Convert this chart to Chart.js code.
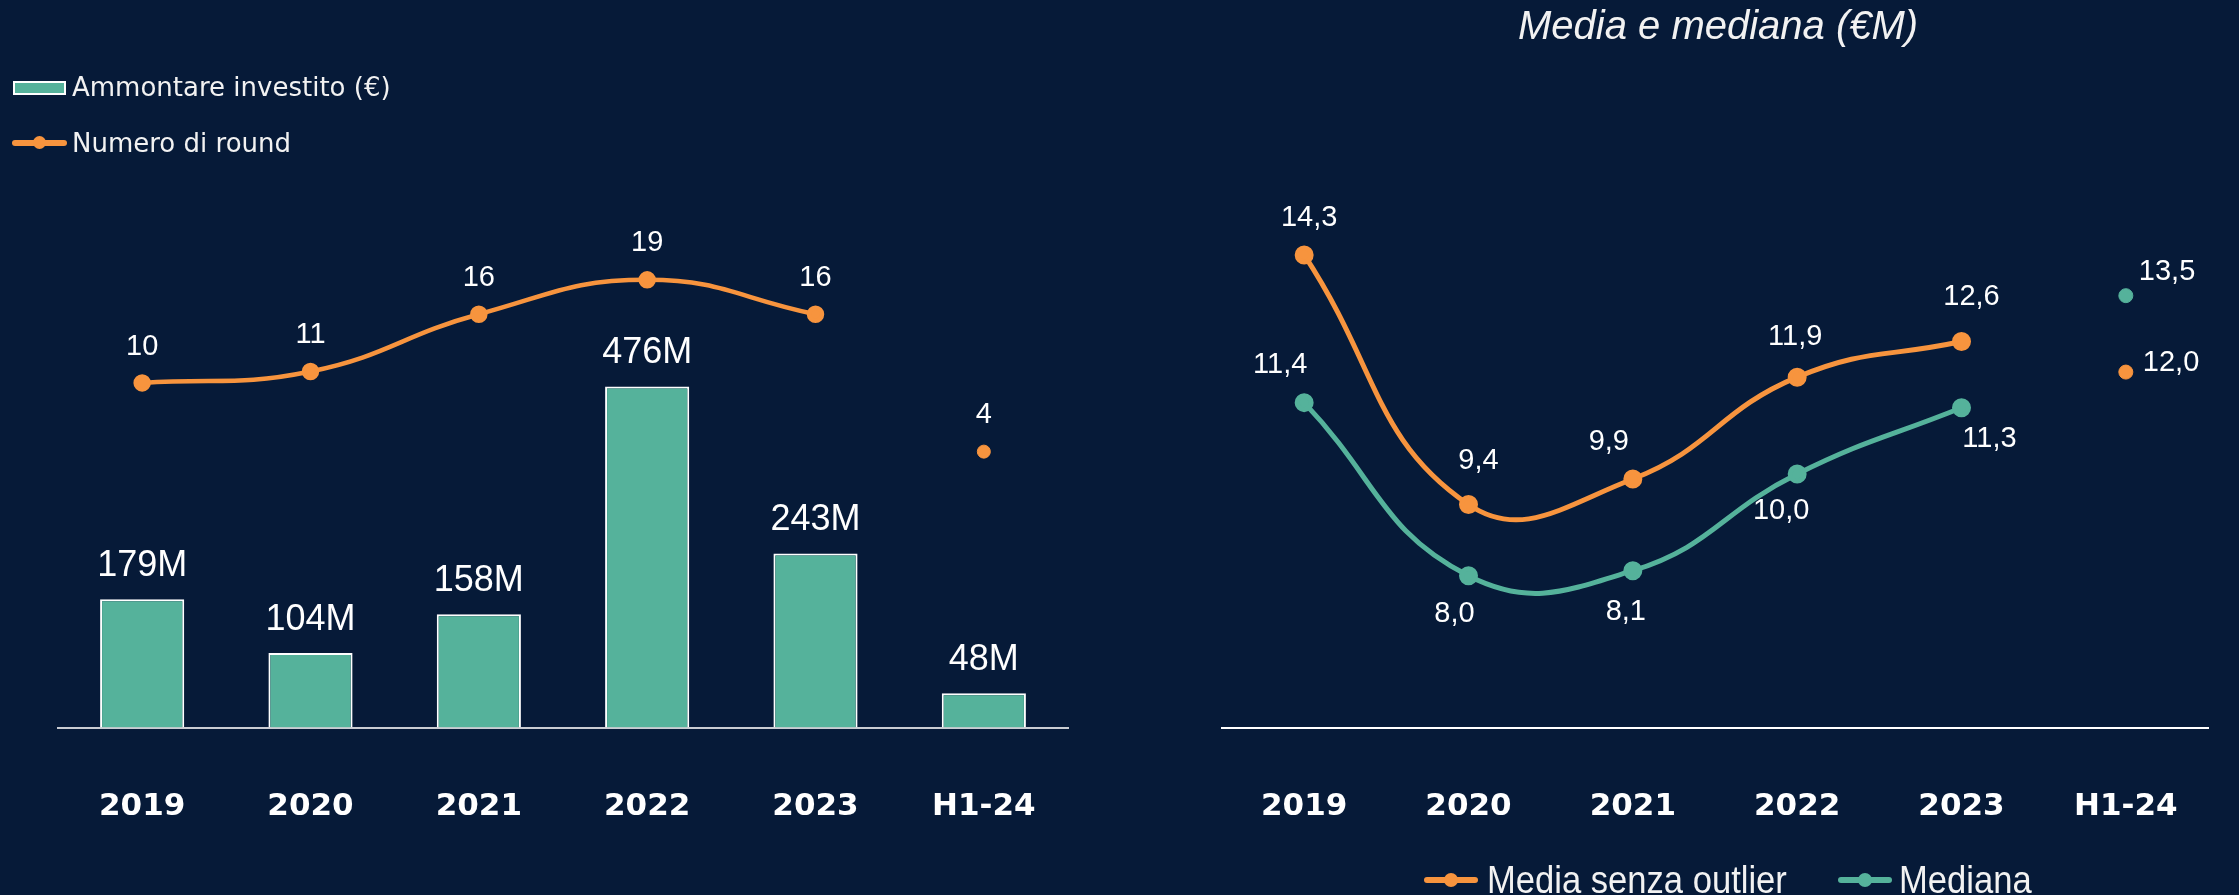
<!DOCTYPE html>
<html>
<head>
<meta charset="utf-8">
<script src="https://cdn.jsdelivr.net/npm/chart.js@4.4.1/dist/chart.umd.min.js"></script>
<style>
  html, body { margin: 0; padding: 0; background: #061a38; }
  body { width: 2239px; height: 895px; position: relative; overflow: hidden; color: #fff; font-family: "Liberation Sans", Arial, sans-serif; }
  #left { position: absolute; left: 0; top: 0; }
  #right { position: absolute; left: 1120px; top: 0; }
  .txt { position: absolute; white-space: nowrap; }
  .lgl { font-family: "DejaVu Sans", sans-serif; font-size: 26px; line-height: 30px; color: #f2f2f2; }
  .lgr { font-size: 38px; line-height: 44px; transform: scaleX(0.91); transform-origin: left center; color: #f2f2f2; }
  .mk-line { position: absolute; height: 6px; border-radius: 3px; }
  .mk-dot { position: absolute; width: 14px; height: 14px; border-radius: 50%; }
</style>
</head>
<body>
<canvas id="left" width="1120" height="895"></canvas>
<canvas id="right" width="1119" height="895"></canvas>

<!-- legenda grafico sinistro -->
<div style="position:absolute;left:13px;top:81px;width:53px;height:14px;box-sizing:border-box;border:2px solid #fff;background:#55b29b;"></div>
<div class="txt lgl" style="left:72px;top:72px;">Ammontare investito (€)</div>
<div class="mk-line" style="left:12px;top:140px;width:55px;background:#f7943e;"></div>
<div class="mk-dot" style="left:33px;top:136px;width:13px;height:13px;background:#f7943e;"></div>
<div class="txt lgl" style="left:72px;top:128px;">Numero di round</div>

<!-- titolo e legenda grafico destro -->
<div class="txt" style="left:1518px;top:2px;font-size:40px;line-height:46px;font-style:italic;color:#f2f2f2;">Media e mediana (€M)</div>
<div class="mk-line" style="left:1424px;top:877px;width:54px;background:#f7943e;"></div>
<div class="mk-dot" style="left:1444px;top:873px;background:#f7943e;"></div>
<div class="txt lgr" style="left:1487px;top:858px;">Media senza outlier</div>
<div class="mk-line" style="left:1838px;top:877px;width:54px;background:#55b29b;"></div>
<div class="mk-dot" style="left:1858px;top:873px;background:#55b29b;"></div>
<div class="txt lgr" style="left:1899px;top:858px;">Mediana</div>

<script>
const categories = ['2019', '2020', '2021', '2022', '2023', 'H1-24'];
const ammontare = [179, 104, 158, 476, 243, 48];
const numeroRound = [10, 11, 16, 19, 16, 4];
const mediaSenzaOutlier = [14.3, 9.4, 9.9, 11.9, 12.6, 12.0];
const mediana = [11.4, 8.0, 8.1, 10.0, 11.3, 13.5];

const orange = '#f7943e';
const teal = '#55b29b';

// la linea si ferma al 2023, H1-24 resta un punto isolato
const lineOnly = arr => arr.map((v, i) => i < arr.length - 1 ? v : null);
const lastOnly = arr => arr.map((v, i) => i === arr.length - 1 ? v : null);
const comma = v => v.toFixed(1).replace('.', ',');

// etichette dei valori, disegnate sopra gli elementi del grafico
const valueLabels = {
    id: 'valueLabels',
    afterDatasetsDraw(chart) {
        const ctx = chart.ctx;
        chart.data.datasets.forEach((ds, i) => {
            if (!ds.labels) return;
            const meta = chart.getDatasetMeta(i);
            ctx.save();
            ctx.font = ds.labels.font;
            ctx.fillStyle = '#ffffff';
            ctx.textBaseline = 'middle';
            meta.data.forEach((el, j) => {
                const v = ds.data[j];
                if (v === null || v === undefined) return;
                const off = ds.labels.offsets[j];
                ctx.textAlign = off[2] || 'center';
                ctx.fillText(ds.labels.format(v), el.x + off[0], el.y + off[1]);
            });
            ctx.restore();
        });
    }
};

const tickFont = { family: 'DejaVu Sans', weight: 'bold', size: 31 };
const labelFont = '29px "Liberation Sans", Arial, sans-serif';

new Chart(document.getElementById('left'), {
    data: {
        labels: categories,
        datasets: [
            {
                type: 'line',
                data: lineOnly(numeroRound),
                yAxisID: 'y1',
                borderColor: orange,
                backgroundColor: orange,
                borderWidth: 4.5,
                pointRadius: 6.5,
                tension: 0.45,
                order: 0,
                labels: { font: labelFont, format: v => String(v), offsets: [[0, -36], [0, -36], [0, -36], [0, -37], [0, -36], [0, -36]] }
            },
            {
                type: 'line',
                data: lastOnly(numeroRound),
                yAxisID: 'y1',
                showLine: false,
                borderColor: orange,
                backgroundColor: orange,
                pointRadius: 6.5,
                order: 0,
                labels: { font: labelFont, format: v => String(v), offsets: [[0, 0], [0, 0], [0, 0], [0, 0], [0, 0], [0, -37]] }
            },
            {
                type: 'bar',
                data: ammontare,
                yAxisID: 'y',
                backgroundColor: teal,
                borderColor: '#ffffff',
                borderWidth: 2,
                borderSkipped: 'bottom',
                barPercentage: 0.5,
                categoryPercentage: 1,
                order: 1,
                labels: { font: '36px "Liberation Sans", Arial, sans-serif', format: v => v + 'M', offsets: [[0, -33], [0, -33], [0, -33], [0, -33], [0, -33], [0, -33]] }
            }
        ]
    },
    options: {
        responsive: false,
        animation: false,
        layout: { padding: { left: 58, right: 52, top: 150, bottom: 9.4 } },
        plugins: { legend: { display: false }, tooltip: { enabled: false } },
        scales: {
            x: {
                grid: { display: false, drawTicks: false },
                border: { display: true, color: '#c9ccd2', width: 2 },
                ticks: { color: '#ffffff', font: tickFont, padding: 60.4, maxRotation: 0, autoSkip: false }
            },
            y: { display: false, min: 0, max: 806 },
            y1: { display: false, min: -20.1, max: 30.34 }
        }
    },
    plugins: [valueLabels]
});

new Chart(document.getElementById('right'), {
    type: 'line',
    data: {
        labels: categories,
        datasets: [
            {
                data: lineOnly(mediaSenzaOutlier),
                borderColor: orange,
                backgroundColor: orange,
                borderWidth: 5,
                pointRadius: 7,
                tension: 0.45,
                labels: { font: labelFont, format: comma, offsets: [[5, -37], [10, -44], [-24, -37], [-2, -40], [10, -45], [0, 0]] }
            },
            {
                data: lastOnly(mediaSenzaOutlier),
                showLine: false,
                borderColor: orange,
                backgroundColor: orange,
                pointRadius: 7,
                labels: { font: labelFont, format: comma, offsets: [[0, 0], [0, 0], [0, 0], [0, 0], [0, 0], [17, -9, 'left']] }
            },
            {
                data: lineOnly(mediana),
                borderColor: teal,
                backgroundColor: teal,
                borderWidth: 5,
                pointRadius: 7,
                tension: 0.45,
                labels: { font: labelFont, format: comma, offsets: [[-24, -38], [-14, 38], [-7, 41], [-16, 37], [28, 31], [0, 0]] }
            },
            {
                data: lastOnly(mediana),
                showLine: false,
                borderColor: teal,
                backgroundColor: teal,
                pointRadius: 7,
                labels: { font: labelFont, format: comma, offsets: [[0, 0], [0, 0], [0, 0], [0, 0], [0, 0], [13, -24, 'left']] }
            }
        ]
    },
    options: {
        responsive: false,
        animation: false,
        layout: { padding: { left: 102, right: 9, top: 150, bottom: 9.4 } },
        plugins: { legend: { display: false }, tooltip: { enabled: false } },
        scales: {
            x: {
                offset: true,
                grid: { display: false, drawTicks: false },
                border: { display: true, color: '#ffffff', width: 2 },
                ticks: { color: '#ffffff', font: tickFont, padding: 60.4, maxRotation: 0, autoSkip: false }
            },
            y: { display: false, min: 5.02, max: 16.36 }
        }
    },
    plugins: [valueLabels]
});
</script>
</body>
</html>
